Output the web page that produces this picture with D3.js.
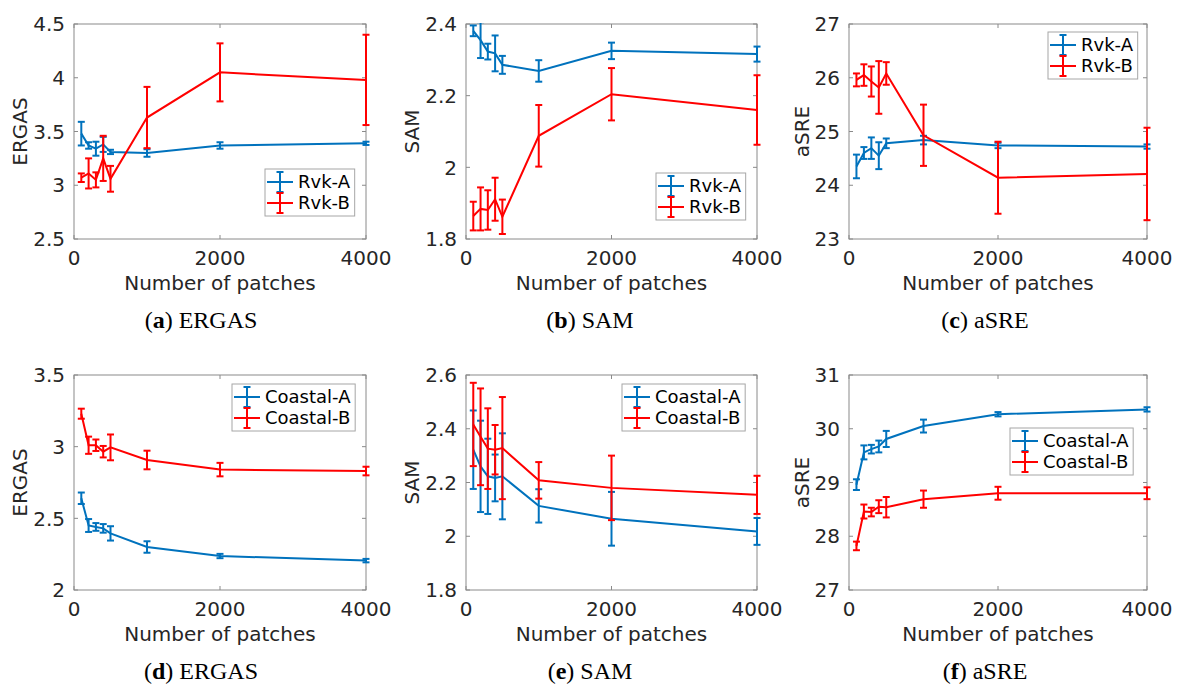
<!DOCTYPE html>
<html>
<head>
<meta charset="utf-8">
<script src="https://cdn.jsdelivr.net/npm/d3@7"></script>
<style>
body { margin: 0; background: #fff; }
svg { display: block; }
.tickText { font-family: "DejaVu Sans", sans-serif; font-size: 20px; fill: #262626; }
.axisTitle { font-family: "DejaVu Sans", sans-serif; font-size: 20px; fill: #262626; }
.legendText { font-family: "DejaVu Sans", sans-serif; font-size: 18px; fill: #000; }
.caption { font-family: "Liberation Serif", serif; font-size: 24px; fill: #000; }
</style>
</head>
<body>
<div id="chart"></div>
<script>

// x values shared by every panel
var patches = [100, 200, 300, 400, 500, 1000, 2000, 4000];
var xTicks = [0, 2000, 4000];

// (a) ERGAS, Rvk
var rvkErgasA    = [3.48, 3.37, 3.34, 3.38, 3.31, 3.30, 3.37, 3.39];
var rvkErgasAErr = [0.11, 0.03, 0.065, 0.07, 0.02, 0.035, 0.03, 0.015];
var rvkErgasB    = [3.07, 3.11, 3.05, 3.25, 3.06, 3.63, 4.05, 3.98];
var rvkErgasBErr = [0.04, 0.14, 0.07, 0.21, 0.12, 0.285, 0.27, 0.42];

// (b) SAM, Rvk
var rvkSamA    = [2.381, 2.355, 2.323, 2.318, 2.286, 2.269, 2.325, 2.316];
var rvkSamAErr = [0.015, 0.05, 0.022, 0.05, 0.025, 0.03, 0.023, 0.021];
var rvkSamB    = [1.864, 1.884, 1.881, 1.911, 1.862, 2.088, 2.204, 2.16];
var rvkSamBErr = [0.04, 0.06, 0.055, 0.06, 0.048, 0.086, 0.073, 0.097];

// (c) aSRE, Rvk
var rvkSreA    = [24.35, 24.60, 24.69, 24.55, 24.78, 24.84, 24.74, 24.72];
var rvkSreAErr = [0.22, 0.11, 0.20, 0.25, 0.09, 0.08, 0.05, 0.04];
var rvkSreB    = [25.96, 26.05, 25.93, 25.82, 26.08, 24.93, 24.14, 24.21];
var rvkSreBErr = [0.12, 0.20, 0.28, 0.49, 0.21, 0.57, 0.67, 0.86];

// (d) ERGAS, Coastal
var coastErgasA    = [2.64, 2.45, 2.44, 2.43, 2.395, 2.30, 2.237, 2.205];
var coastErgasAErr = [0.04, 0.045, 0.027, 0.03, 0.05, 0.04, 0.015, 0.012];
var coastErgasB    = [3.23, 3.01, 3.01, 2.965, 2.995, 2.907, 2.84, 2.83];
var coastErgasBErr = [0.035, 0.06, 0.04, 0.04, 0.09, 0.065, 0.047, 0.03];

// (e) SAM, Coastal
var coastSamA    = [2.322, 2.26, 2.223, 2.217, 2.223, 2.113, 2.065, 2.018];
var coastSamAErr = [0.146, 0.17, 0.14, 0.087, 0.16, 0.062, 0.10, 0.05];
var coastSamB    = [2.416, 2.37, 2.326, 2.322, 2.328, 2.208, 2.18, 2.154];
var coastSamBErr = [0.155, 0.18, 0.15, 0.092, 0.19, 0.068, 0.12, 0.071];

// (f) aSRE, Coastal
var coastSreA    = [28.96, 29.56, 29.62, 29.67, 29.81, 30.05, 30.27, 30.36];
var coastSreAErr = [0.10, 0.13, 0.08, 0.11, 0.15, 0.12, 0.04, 0.04];
var coastSreB    = [27.82, 28.46, 28.45, 28.55, 28.54, 28.69, 28.80, 28.80];
var coastSreBErr = [0.08, 0.13, 0.08, 0.12, 0.19, 0.16, 0.12, 0.11];

var blue = "#0072BD";
var red = "#FF0000";

/**
 * One MATLAB style errorbar panel
 */
function ErrorBarChart(svg, opts){
    var self = this;
    self.svg = svg;
    self.opts = opts;
    self.init();
};

ErrorBarChart.prototype.init = function(){
    var self = this;
    var o = self.opts;

    self.g = self.svg.append("g");
    self.xScale = d3.scaleLinear().domain([0, 4000]).range([o.left, o.right]);
    self.yScale = d3.scaleLinear().domain(o.yDomain).range([o.bottom, o.top]);

    //clip top and bottom only, caps at the edges may stick out sideways
    self.g.append("clipPath")
        .attr("id", "clip" + o.id)
        .append("rect")
        .attr("x", o.left - 10)
        .attr("y", o.top - 1)
        .attr("width", o.right - o.left + 20)
        .attr("height", o.bottom - o.top + 2);
};

ErrorBarChart.prototype.drawAxes = function(){
    var self = this;
    var o = self.opts;
    var axisColor = "#8a8a8a";
    var tickLen = 4;

    // box
    self.g.append("rect")
        .attr("x", o.left)
        .attr("y", o.top)
        .attr("width", o.right - o.left)
        .attr("height", o.bottom - o.top)
        .attr("fill", "none")
        .attr("stroke", axisColor)
        .attr("stroke-width", 1);

    // x ticks, mirrored on top
    xTicks.forEach(function(t){
        var x = self.xScale(t);
        self.g.append("line").attr("x1", x).attr("x2", x)
            .attr("y1", o.bottom).attr("y2", o.bottom - tickLen)
            .attr("stroke", axisColor);
        self.g.append("line").attr("x1", x).attr("x2", x)
            .attr("y1", o.top).attr("y2", o.top + tickLen)
            .attr("stroke", axisColor);
        self.g.append("text")
            .attr("class", "tickText")
            .attr("x", x)
            .attr("y", o.bottom + 26)
            .attr("text-anchor", "middle")
            .text(t);
    });

    var maxW = 0;
    o.yTicks.forEach(function(t){
        var y = self.yScale(t);
        self.g.append("line").attr("x1", o.left).attr("x2", o.left + tickLen)
            .attr("y1", y).attr("y2", y)
            .attr("stroke", axisColor);
        self.g.append("line").attr("x1", o.right).attr("x2", o.right - tickLen)
            .attr("y1", y).attr("y2", y)
            .attr("stroke", axisColor);
        var txt = self.g.append("text")
            .attr("class", "tickText")
            .attr("x", o.left - 9)
            .attr("y", y)
            .attr("dy", "0.36em")
            .attr("text-anchor", "end")
            .text(t);
        maxW = Math.max(maxW, txt.node().getBBox().width);
    });

    self.g.append("text")
        .attr("class", "axisTitle")
        .attr("text-anchor", "middle")
        .attr("x", (o.left + o.right) / 2)
        .attr("y", o.bottom + 51)
        .text("Number of patches");

    var lx = o.left - 9 - maxW - 6;
    var ly = (o.top + o.bottom) / 2;
    self.g.append("text")
        .attr("class", "axisTitle")
        .attr("text-anchor", "middle")
        .attr("transform", "translate(" + lx + "," + ly + ") rotate(-90)")
        .text(o.yLabel);

    // caption below the panel
    var cap = self.g.append("text")
        .attr("class", "caption")
        .attr("text-anchor", "middle")
        .attr("x", o.captionX)
        .attr("y", o.bottom + 89);
    cap.append("tspan").text("(");
    cap.append("tspan").attr("font-weight", "bold").text(o.letter);
    cap.append("tspan").text(") " + o.yLabel);
};

ErrorBarChart.prototype.drawSeries = function(){
    var self = this;
    var o = self.opts;
    var capW = 3.5;
    var plot = self.g.append("g").attr("clip-path", "url(#clip" + o.id + ")");

    o.series.forEach(function(s){
        var pts = patches.map(function(p, i){
            return {x: p, y: s.values[i], e: s.errors[i]};
        });
        var line = d3.line()
            .x(function(d){ return self.xScale(d.x); })
            .y(function(d){ return self.yScale(d.y); });

        var sg = plot.append("g")
            .attr("stroke", s.color)
            .attr("stroke-width", 2)
            .attr("fill", "none");

        sg.append("path").attr("d", line(pts));

        var bars = sg.selectAll("g.bar").data(pts).enter().append("g").attr("class", "bar");
        bars.append("line")
            .attr("x1", function(d){ return self.xScale(d.x); })
            .attr("x2", function(d){ return self.xScale(d.x); })
            .attr("y1", function(d){ return self.yScale(d.y - d.e); })
            .attr("y2", function(d){ return self.yScale(d.y + d.e); });
        bars.append("line")
            .attr("x1", function(d){ return self.xScale(d.x) - capW; })
            .attr("x2", function(d){ return self.xScale(d.x) + capW; })
            .attr("y1", function(d){ return self.yScale(d.y + d.e); })
            .attr("y2", function(d){ return self.yScale(d.y + d.e); });
        bars.append("line")
            .attr("x1", function(d){ return self.xScale(d.x) - capW; })
            .attr("x2", function(d){ return self.xScale(d.x) + capW; })
            .attr("y1", function(d){ return self.yScale(d.y - d.e); })
            .attr("y2", function(d){ return self.yScale(d.y - d.e); });
    });
};

ErrorBarChart.prototype.drawLegend = function(){
    var self = this;
    var o = self.opts;
    var lg = self.g.append("g").attr("transform", "translate(" + o.legend[0] + "," + o.legend[1] + ")");
    var box = lg.append("rect")
        .attr("fill", "#fff")
        .attr("stroke", "#a6a6a6")
        .attr("stroke-width", 1);

    var maxW = 0;
    o.series.forEach(function(s, i){
        var cy = 13 + i * 21;
        var item = lg.append("g").attr("stroke", s.color).attr("stroke-width", 2);
        item.append("line").attr("x1", 2).attr("x2", 28).attr("y1", cy).attr("y2", cy);
        item.append("line").attr("x1", 15).attr("x2", 15).attr("y1", cy - 10).attr("y2", cy + 10);
        item.append("line").attr("x1", 11.5).attr("x2", 18.5).attr("y1", cy - 10).attr("y2", cy - 10);
        item.append("line").attr("x1", 11.5).attr("x2", 18.5).attr("y1", cy + 10).attr("y2", cy + 10);
        var t = lg.append("text")
            .attr("class", "legendText")
            .attr("x", 33)
            .attr("y", cy)
            .attr("dy", "0.36em")
            .text(s.name);
        maxW = Math.max(maxW, t.node().getBBox().width);
    });
    box.attr("x", 0).attr("y", 0).attr("width", 33 + maxW + 4).attr("height", 47);
};

var svg = d3.select("#chart").append("svg")
    .attr("width", 1178)
    .attr("height", 684);

var cols = [{left: 74, right: 366, cap: 201}, {left: 466, right: 757, cap: 590}, {left: 849, right: 1147, cap: 985}];
var rows = [{top: 24, bottom: 239}, {top: 375, bottom: 590}];

var panels = [
    {letter: "a", yLabel: "ERGAS", yDomain: [2.5, 4.5], yTicks: [2.5, 3, 3.5, 4, 4.5], legend: [265, 169],
     series: [{name: "Rvk-A", values: rvkErgasA, errors: rvkErgasAErr, color: blue},
              {name: "Rvk-B", values: rvkErgasB, errors: rvkErgasBErr, color: red}]},
    {letter: "b", yLabel: "SAM", yDomain: [1.8, 2.4], yTicks: [1.8, 2, 2.2, 2.4], legend: [656, 173],
     series: [{name: "Rvk-A", values: rvkSamA, errors: rvkSamAErr, color: blue},
              {name: "Rvk-B", values: rvkSamB, errors: rvkSamBErr, color: red}]},
    {letter: "c", yLabel: "aSRE", yDomain: [23, 27], yTicks: [23, 24, 25, 26, 27], legend: [1048, 32],
     series: [{name: "Rvk-A", values: rvkSreA, errors: rvkSreAErr, color: blue},
              {name: "Rvk-B", values: rvkSreB, errors: rvkSreBErr, color: red}]},
    {letter: "d", yLabel: "ERGAS", yDomain: [2, 3.5], yTicks: [2, 2.5, 3, 3.5], legend: [232, 384],
     series: [{name: "Coastal-A", values: coastErgasA, errors: coastErgasAErr, color: blue},
              {name: "Coastal-B", values: coastErgasB, errors: coastErgasBErr, color: red}]},
    {letter: "e", yLabel: "SAM", yDomain: [1.8, 2.6], yTicks: [1.8, 2, 2.2, 2.4, 2.6], legend: [622, 384],
     series: [{name: "Coastal-A", values: coastSamA, errors: coastSamAErr, color: blue},
              {name: "Coastal-B", values: coastSamB, errors: coastSamBErr, color: red}]},
    {letter: "f", yLabel: "aSRE", yDomain: [27, 31], yTicks: [27, 28, 29, 30, 31], legend: [1010, 428],
     series: [{name: "Coastal-A", values: coastSreA, errors: coastSreAErr, color: blue},
              {name: "Coastal-B", values: coastSreB, errors: coastSreBErr, color: red}]}
];

panels.forEach(function(p, i){
    var c = cols[i % 3];
    var r = rows[Math.floor(i / 3)];
    p.id = i;
    p.left = c.left;
    p.right = c.right;
    p.captionX = c.cap;
    p.top = r.top;
    p.bottom = r.bottom;
    var chart = new ErrorBarChart(svg, p);
    chart.drawAxes();
    chart.drawSeries();
    chart.drawLegend();
});

</script>
</body>
</html>
